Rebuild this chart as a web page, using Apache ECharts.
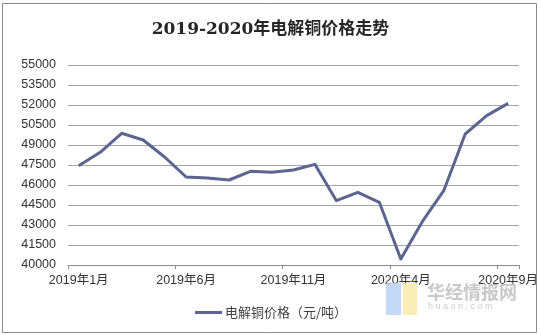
<!DOCTYPE html>
<html>
<head>
<meta charset="utf-8">
<script src="https://cdn.jsdelivr.net/npm/echarts@6/dist/echarts.min.js"></script>
<style>
html,body{margin:0;padding:0;background:#fff;}
#c{width:541px;height:335px;}
</style>
</head>
<body>
<div id="c"></div>
<script>
var titleText = '2019-2020年电解铜价格走势';
var seriesName = '电解铜价格（元/吨）';
var categories = ['2019年1月','2019年2月','2019年3月','2019年4月','2019年5月','2019年6月','2019年7月','2019年8月','2019年9月','2019年10月','2019年11月','2019年12月','2020年1月','2020年2月','2020年3月','2020年4月','2020年5月','2020年6月','2020年7月','2020年8月','2020年9月'];
var prices = [47450, 48450, 49880, 49375, 48100, 46600, 46525, 46375, 47025, 46950, 47125, 47550, 44825, 45450, 44700, 40450, 43250, 45575, 49825, 51200, 52125];
var yMin = 40000;
var yMax = 55000;
var yStep = 1500;

var chart = echarts.init(document.getElementById('c'), null, {renderer: 'canvas'});
chart.setOption({
  animation: false,
  backgroundColor: '#ffffff',
  title: {
    text: titleText,
    left: 'center',
    top: 16,
    textStyle: {
      fontFamily: '"DejaVu Serif", "Noto Sans CJK SC", serif',
      fontWeight: 'bold',
      fontSize: 17,
      color: '#262626'
    }
  },
  grid: {left: 68, right: 21, top: 65, bottom: 70, containLabel: false},
  xAxis: {
    type: 'category',
    data: categories,
    boundaryGap: true,
    axisLine: {show: true, lineStyle: {color: '#8c8c8c', width: 1}},
    axisTick: {show: true, interval: 4, length: 4, lineStyle: {color: '#8c8c8c'}},
    axisLabel: {
      interval: 4,
      margin: 9,
      color: '#333333',
      fontSize: 12.5,
      fontFamily: '"Liberation Sans", "Noto Sans CJK SC", sans-serif'
    },
    splitLine: {show: false}
  },
  yAxis: {
    type: 'value',
    min: yMin,
    max: yMax,
    interval: yStep,
    axisLine: {show: false},
    axisTick: {show: false},
    axisLabel: {
      margin: 12,
      color: '#333333',
      fontSize: 12.5,
      fontFamily: '"Liberation Sans", sans-serif',
      formatter: function (v) { return String(v); }
    },
    splitLine: {show: true, lineStyle: {color: '#a6a6a6', width: 1}}
  },
  legend: {
    bottom: 11,
    left: 190,
    itemWidth: 27,
    itemHeight: 3,
    itemGap: 10,
    textStyle: {
      color: '#404040',
      fontSize: 13,
      fontFamily: '"Noto Sans CJK SC", sans-serif',
      padding: [0, 0, 0, -2]
    },
    data: [{name: seriesName, icon: 'rect'}]
  },
  series: [{
    name: seriesName,
    type: 'line',
    data: prices,
    symbol: 'none',
    showSymbol: false,
    lineStyle: {color: '#5b6590', width: 3, join: 'round'},
    itemStyle: {color: '#5b6590'}
  }],
  graphic: [
    {type: 'rect', shape: {x: 2.5, y: 3.5, width: 534, height: 329}, style: {fill: 'none', stroke: '#8a8a8a', lineWidth: 1}, z: 100},
    {type: 'rect', shape: {x: 386, y: 283, width: 15, height: 32}, style: {fill: '#b5cff2', opacity: 0.8}, z: 1},
    {type: 'rect', shape: {x: 403, y: 283, width: 14, height: 32}, style: {fill: '#f7e9a6', opacity: 0.8}, z: 1},
    {type: 'text', x: 427, y: 283, style: {text: '华经情报网', fill: '#c9c9c9', font: 'bold 18px "Noto Sans CJK SC", sans-serif'}, z: 1},
    {type: 'text', x: 428, y: 302, style: {text: 'h u a o n . c o m', fill: '#cccccc', font: '9px "Liberation Sans", sans-serif'}, z: 1}
  ]
});
</script>
</body>
</html>
